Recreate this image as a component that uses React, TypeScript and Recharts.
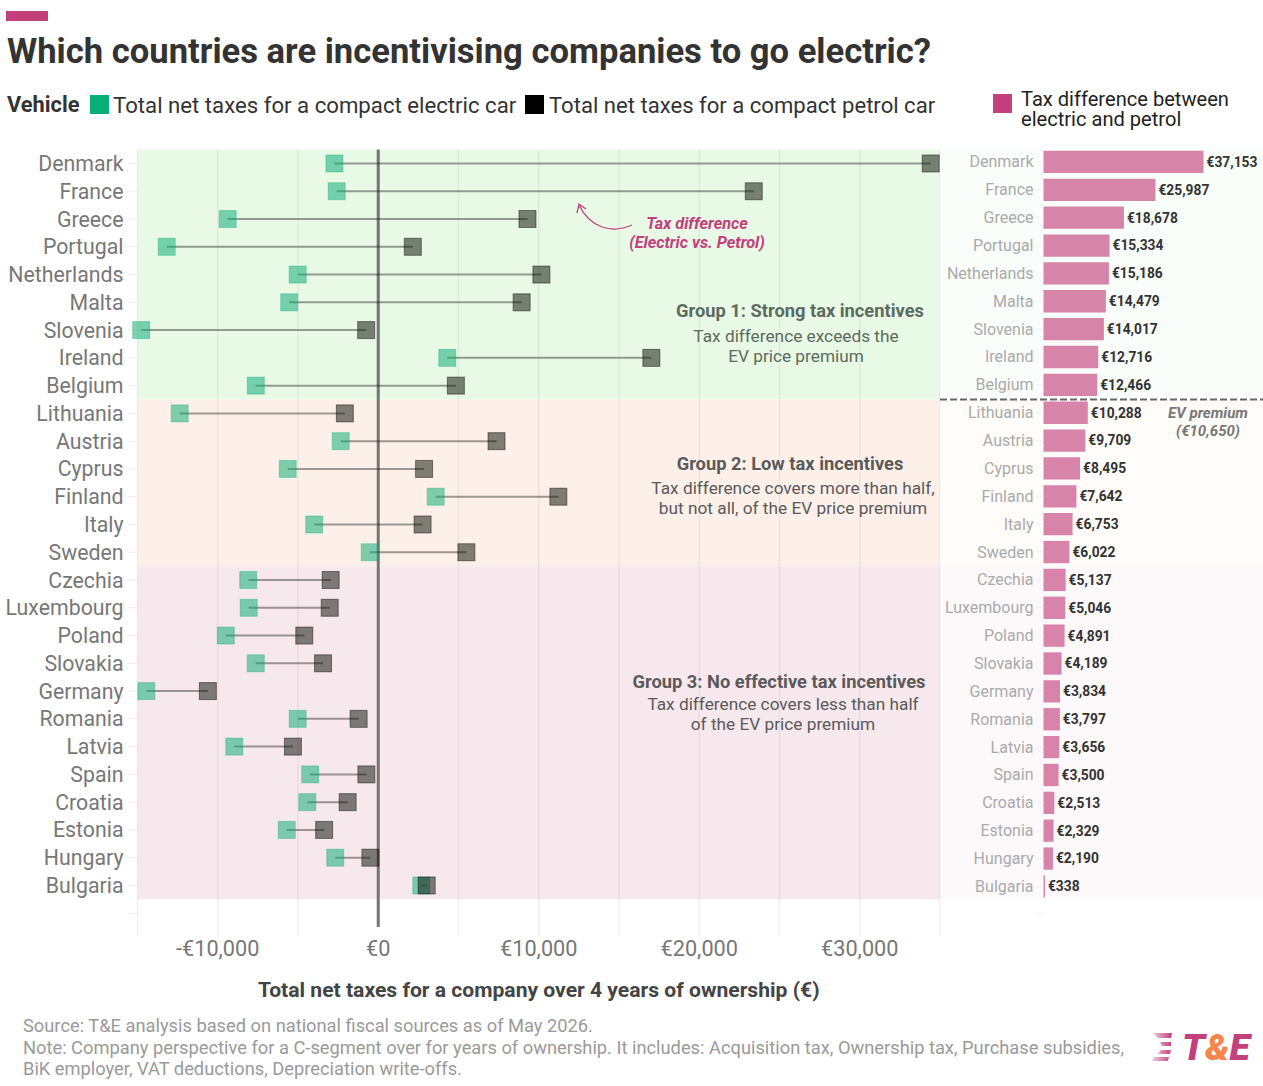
import React from 'react';
import {
  ScatterChart, Scatter, BarChart, Bar, XAxis, YAxis,
  ReferenceArea, ReferenceLine, LabelList,
} from 'recharts';

const countries = [
  'Denmark', 'France', 'Greece', 'Portugal', 'Netherlands', 'Malta', 'Slovenia', 'Ireland', 'Belgium',
  'Lithuania', 'Austria', 'Cyprus', 'Finland', 'Italy', 'Sweden',
  'Czechia', 'Luxembourg', 'Poland', 'Slovakia', 'Germany', 'Romania', 'Latvia', 'Spain', 'Croatia', 'Estonia', 'Hungary', 'Bulgaria',
];
const electricTaxes = [
  -2730, -2590, -9380, -13180, -5020, -5545, -14770, 4300, -7630,
  -12370, -2340, -5640, 3580, -3990, -530,
  -8100, -8070, -9500, -7630, -14450, -5020, -8970, -4240, -4420, -5700, -2680, 2680,
];
const petrolTaxes = [
  34423, 23397, 9298, 2154, 10166, 8934, -753, 17016, 4836,
  -2082, 7369, 2855, 11222, 2763, 5492,
  -2963, -3024, -4609, -3441, -10616, -1223, -5314, -740, -1907, -3371, -490, 3018,
];
const taxDifference = [
  37153, 25987, 18678, 15334, 15186, 14479, 14017, 12716, 12466,
  10288, 9709, 8495, 7642, 6753, 6022,
  5137, 5046, 4891, 4189, 3834, 3797, 3656, 3500, 2513, 2329, 2190, 338,
];
const groupFirstRank = [-0.5, 8.5, 14.5];
const groupLastRank = [8.5, 14.5, 26.5];
const groupFill = ['#e8f9e6', '#fdf0e9', '#f7e8ee'];
const groupFillPale = ['#fafefa', '#fffcfa', '#fdf9fb'];
const xTicks = [-10000, 0, 10000, 20000, 30000];
const gridValues = [-15000, -10000, -5000, 5000, 10000, 15000, 20000, 25000, 30000, 35000];

const electricPoints = electricTaxes.map((x, rank) => ({ x, rank }));
const petrolPoints = petrolTaxes.map((x, rank) => ({ x, rank }));
const panelPoints = countries.map((_, rank) => ({ x: 0.5, rank }));
const barRows = [...countries.map((name, i) => ({ name, value: taxDifference[i] })), { name: ' ', value: null }];
const yTicks = [...countries.map((_, i) => i), countries.length];

const euro = (v: number) => (v < 0 ? '-' : '') + '€' + Math.abs(v).toLocaleString('en-US');

const square = (fill: string, stroke: string) => (p: any) => (
  <rect x={p.cx - 8.5} y={p.cy - 8.5} width={17} height={17} fill={fill} stroke={stroke} strokeWidth={1} />
);

const Txt = ({ x, y, w, align, style, children }: any) => (
  <div style={{
    position: 'absolute', left: x, top: y, width: w, textAlign: align || 'center', whiteSpace: 'nowrap', ...style,
  }}>{children}</div>
);

export default function App() {
  return (
    <div style={{ position: 'absolute', left: 0, top: 0, width: 1263, height: 1086, background: '#fff', fontFamily: 'Roboto', overflow: 'hidden' }}>
      <div style={{ position: 'absolute', left: 6, top: 11, width: 42, height: 10, background: '#c2407c' }} />
      <Txt x={7} y={31} align="left" style={{ fontSize: 34.6, fontWeight: 700, color: '#333', lineHeight: '40px' }}>
        Which countries are incentivising companies to go electric?
      </Txt>

      {/* legend */}
      <Txt x={7} y={91} align="left" style={{ fontSize: 21.8, fontWeight: 700, color: '#333', lineHeight: '28px' }}>Vehicle</Txt>
      <div style={{ position: 'absolute', left: 90, top: 95, width: 19, height: 19, background: '#0aaf78' }} />
      <Txt x={113} y={91} align="left" style={{ fontSize: 22.2, color: '#333', lineHeight: '28px' }}>Total net taxes for a compact electric car</Txt>
      <div style={{ position: 'absolute', left: 525, top: 95, width: 19, height: 19, background: '#000' }} />
      <Txt x={549} y={91} align="left" style={{ fontSize: 22.1, color: '#333', lineHeight: '28px' }}>Total net taxes for a compact petrol car</Txt>
      <div style={{ position: 'absolute', left: 993, top: 94, width: 19, height: 19, background: '#c2407c' }} />
      <Txt x={1021} y={89} align="left" style={{ fontSize: 20.1, color: '#222', lineHeight: '20px' }}>Tax difference between<br />electric and petrol</Txt>

      {/* dumbbells */}
      <div style={{ position: 'absolute', left: 0, top: 0 }}>
        <ScatterChart width={945} height={1010} margin={{ top: 149.6, right: 5, bottom: 0, left: 0 }}>
          {groupFill.map((fill, i) => (
            <ReferenceArea key={fill} x1={-15000} x2={35000} y1={groupFirstRank[i]} y2={groupLastRank[i]} fill={fill} fillOpacity={1} stroke="none" />
          ))}
          {gridValues.map((v) => (
            <ReferenceLine key={v} x={v} stroke="#000" strokeOpacity={0.055} strokeWidth={1.5} />
          ))}
          <XAxis
            type="number" dataKey="x" domain={[-15000, 35000]} ticks={xTicks} height={74}
            tickFormatter={euro} axisLine={false} tickLine={false} tickSize={0} tickMargin={5}
            tick={{ fontSize: 21.7, fill: '#777777' }} interval={0}
            label={{ value: 'Total net taxes for a company over 4 years of ownership (€)', position: 'insideBottom', offset: 13, fontSize: 21.1, fontWeight: 700, fill: '#444444' }}
          />
          <YAxis
            type="number" dataKey="rank" domain={[-0.5, 27.82]} reversed ticks={yTicks} width={137.5} interval={0}
            tickFormatter={(i: number) => countries[i] || ''} axisLine={false} tickSize={10} tickMargin={4}
            tickLine={{ stroke: '#eeeeee' }} tick={{ fontSize: 21.3, fill: '#777777' }}
          />
          <ReferenceLine segment={[{ x: 0, y: -0.5 }, { x: 0, y: 27.5 }]} stroke="#747474" strokeWidth={3} />
          <Scatter data={electricPoints} dataKey="x" isAnimationActive={false} shape={square('rgba(8,170,115,0.52)', 'rgba(8,170,115,0.35)')} />
          <Scatter data={petrolPoints} dataKey="x" isAnimationActive={false} shape={square('rgba(15,20,10,0.53)', 'rgba(0,0,0,0.45)')} />
          {countries.map((c, i) => (
            <ReferenceLine key={c} segment={[{ x: electricTaxes[i], y: i }, { x: petrolTaxes[i], y: i }]} stroke="#1a1a1a" strokeOpacity={0.42} strokeWidth={2} />
          ))}
        </ScatterChart>
      </div>

      {/* tinted bands behind the bars */}
      <div style={{ position: 'absolute', left: 940, top: 0 }}>
        <ScatterChart width={323} height={928} margin={{ top: 149.6, right: 0, bottom: 0.8, left: 0 }}>
          {groupFillPale.map((fill, i) => (
            <ReferenceArea key={fill} x1={0} x2={1} y1={groupFirstRank[i]} y2={groupLastRank[i]} fill={fill} fillOpacity={1} stroke="none" />
          ))}
          <ReferenceLine y={8.5} stroke="#666666" strokeWidth={2} strokeDasharray="7 3" />
          <XAxis type="number" dataKey="x" hide domain={[0, 1]} />
          <YAxis type="number" dataKey="rank" hide domain={[-0.5, 27.5]} reversed />
          <Scatter data={panelPoints} dataKey="x" isAnimationActive={false} shape={() => null} />
        </ScatterChart>
      </div>

      {/* tax difference bars */}
      <div style={{ position: 'absolute', left: 940, top: 0 }}>
        <BarChart layout="vertical" width={323} height={928} data={barRows} margin={{ top: 147.8, right: 0, bottom: 0, left: 0 }} barSize={22.3}>
          <XAxis type="number" hide domain={[0, 50965]} />
          <YAxis
            type="category" dataKey="name" width={103.5} axisLine={false} interval={0}
            tickSize={7} tickMargin={3} tickLine={{ stroke: '#f0f0f0' }} tick={{ fontSize: 16, fill: '#aaaaaa' }}
          />
          <Bar dataKey="value" fill="#c2407c" fillOpacity={0.64} isAnimationActive={false}>
            <LabelList dataKey="value" position="right" offset={3} fontSize={13.8} fontWeight={700} fill="#333333" formatter={(v: any) => (v == null ? '' : euro(v))} />
          </Bar>
        </BarChart>
      </div>

      {/* annotations */}
      <svg style={{ position: 'absolute', left: 0, top: 0 }} width={1263} height={1086}>
        <path d="M632 225 C612 234 590 228 579 205" fill="none" stroke="#c2407c" strokeWidth={1.3} />
        <path d="M577 213 L579 204 L586 209" fill="none" stroke="#c2407c" strokeWidth={1.3} />
      </svg>
      <Txt x={597} y={215} w={200} style={{ fontSize: 16.3, fontWeight: 700, fontStyle: 'italic', color: '#c2407c', lineHeight: '18.5px' }}>
        Tax difference<br />(Electric vs. Petrol)
      </Txt>
      <Txt x={650} y={300} w={300} style={{ fontSize: 18.3, fontWeight: 700, color: '#5c6b5e', lineHeight: '22px' }}>Group 1: Strong tax incentives</Txt>
      <Txt x={646} y={327} w={300} style={{ fontSize: 17.25, color: '#5c6b5e', lineHeight: '19.5px' }}>Tax difference exceeds the<br />EV price premium</Txt>
      <Txt x={640} y={453} w={300} style={{ fontSize: 18.3, fontWeight: 700, color: '#5a5a5a', lineHeight: '22px' }}>Group 2: Low tax incentives</Txt>
      <Txt x={623} y={479} w={340} style={{ fontSize: 17.25, color: '#5a5a5a', lineHeight: '19.5px' }}>Tax difference covers more than half,<br />but not all, of the EV price premium</Txt>
      <Txt x={629} y={671} w={300} style={{ fontSize: 18.3, fontWeight: 700, color: '#5a5a5a', lineHeight: '22px' }}>Group 3: No effective tax incentives</Txt>
      <Txt x={633} y={695} w={300} style={{ fontSize: 17.25, color: '#5a5a5a', lineHeight: '19.5px' }}>Tax difference covers less than half<br />of the EV price premium</Txt>
      <Txt x={1158} y={405} w={100} style={{ fontSize: 15, fontWeight: 700, fontStyle: 'italic', color: '#777', lineHeight: '17.5px' }}>EV premium<br />(€10,650)</Txt>

      {/* footer */}
      <Txt x={23} y={1015} align="left" style={{ fontSize: 18.3, color: '#9a9a9a', lineHeight: '21.7px' }}>
        Source: T&amp;E analysis based on national fiscal sources as of May 2026.<br />
        Note: Company perspective for a C-segment over for years of ownership. It includes: Acquisition tax, Ownership tax, Purchase subsidies,<br />
        BiK employer, VAT deductions, Depreciation write-offs.
      </Txt>
      <svg style={{ position: 'absolute', left: 1150, top: 1030 }} width={30} height={34}>
        <defs>
          <linearGradient id="logoFade" x1="0" x2="1" y1="0" y2="0">
            <stop offset="0" stopColor="#c2407c" stopOpacity={0.25} />
            <stop offset="1" stopColor="#c2407c" stopOpacity={1} />
          </linearGradient>
        </defs>
        <path d="M3 3 H22 L21 8 H8 Z M10 12 H21 L21 16 H12 Z M11 20 H21 L20 24 H8 Z M4 27 H19 L18 31 H2 Z" fill="url(#logoFade)" />
      </svg>
      <Txt x={1182} y={1025} align="left" style={{ fontSize: 37.5, fontWeight: 900, fontStyle: 'italic', color: '#c2407c', lineHeight: '44px' }}>
        T<span style={{ color: '#f5854b' }}>&amp;</span>E
      </Txt>
    </div>
  );
}
